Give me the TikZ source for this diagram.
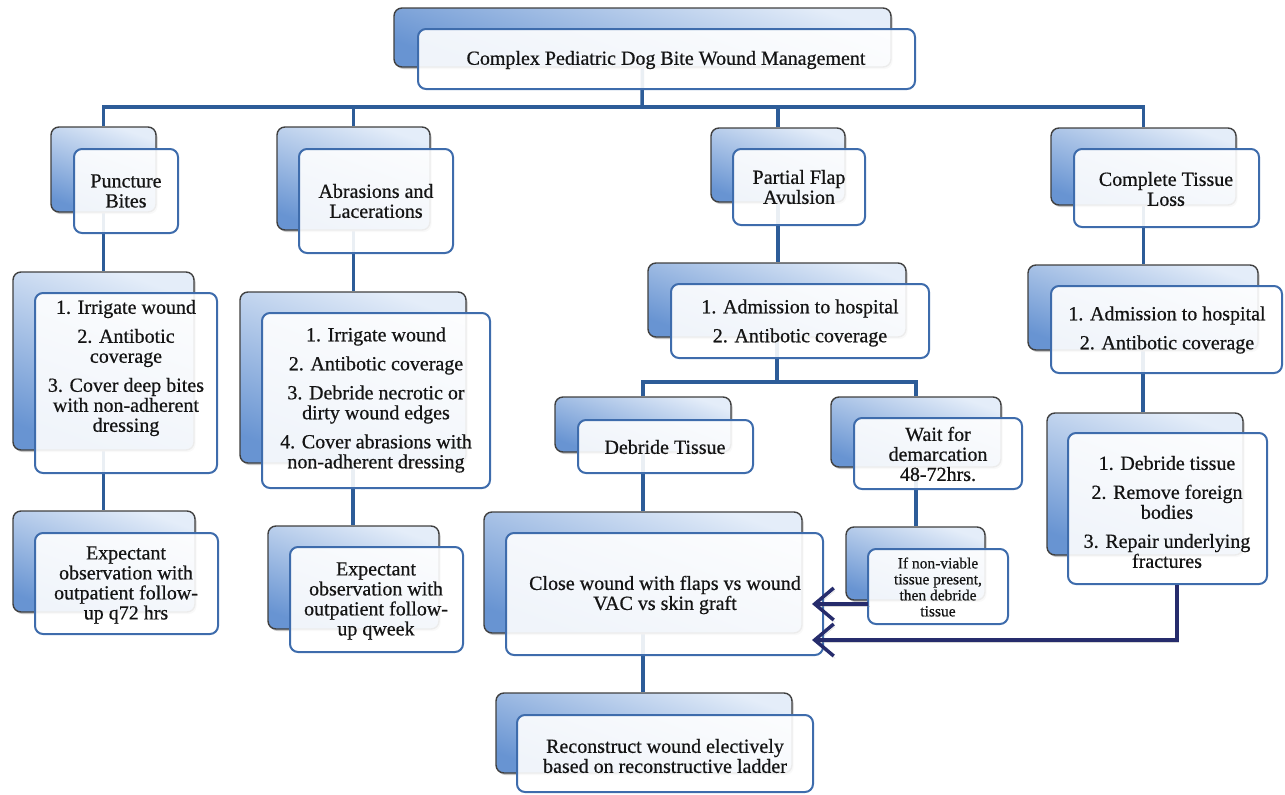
\documentclass[tikz,border=0pt]{standalone}
\usepackage{fontspec}
\setmainfont{Liberation Serif}[FakeBold=0.6]
\usetikzlibrary{fit,shadows,backgrounds,arrows.meta}
\definecolor{bLight}{RGB}{228,237,249}
\definecolor{bDark}{RGB}{104,148,210}
\definecolor{fEdge}{RGB}{62,108,172}
\definecolor{conn}{RGB}{45,92,152}
\definecolor{arr}{RGB}{38,44,108}
\definecolor{ink}{RGB}{20,20,20}
\tikzset{
  backbox/.style={rectangle, rounded corners=8pt, draw=black!75, line width=1.4pt,
    top color=bLight, bottom color=bDark, shading angle=-20, inner sep=0pt,
    drop shadow={shadow xshift=1.5pt, shadow yshift=-2pt, opacity=0.45}},
  frontbox/.style={rectangle, rounded corners=8pt, draw=fEdge, line width=2pt,
    fill=white, fill opacity=0.9, inner sep=0pt},
  lbl/.style={text=ink, align=center, font=\fontsize{20}{20}\selectfont, inner sep=0pt},
  smalllbl/.style={lbl, font=\fontsize{15.5}{16}\selectfont},
  conline/.style={draw=conn, line width=3.5pt},
  arrowline/.style={draw=arr, line width=3.5pt, line join=miter,
    -{Straight Barb[length=19pt,width=32pt]},
    preaction={draw=black!45, opacity=0.35, transform canvas={xshift=1.5pt,yshift=-2.5pt}}}
}
\newcommand{\twobox}[9]{%
  \node[backbox, fit={(#2,#3)(#4,#5)}] (#1-b) {};
  \node[frontbox, fit={(#6,#7)(#8,#9)}] (#1-f) {};}
\begin{document}
\begin{tikzpicture}[x=1pt,y=-1pt]
\useasboundingbox (0,0) rectangle (1285,795);
% boxes
\twobox{title}{394}{8}{891}{67}{418}{29}{915}{89}
\twobox{punc}{51}{127}{156}{212}{74}{149}{178}{233}
\twobox{abr}{277}{127}{430}{230}{299}{149}{453}{253}
\twobox{part}{711}{128}{845}{202}{733}{149}{865}{225}
\twobox{comp}{1051}{128}{1236}{205}{1074}{149}{1259}{227}
\twobox{plist}{13}{272}{194}{450}{35}{293}{217}{473}
\twobox{alist}{240}{292}{466}{463}{262}{313}{490}{488}
\twobox{pexp}{13}{511}{195}{612}{35}{533}{218}{634}
\twobox{aexp}{268}{526}{439}{629}{290}{547}{463}{652}
\twobox{adma}{648}{263}{906}{337}{671}{284}{929}{358}
\twobox{admb}{1028}{265}{1258}{350}{1051}{286}{1282}{373}
\twobox{deb}{555}{397}{731}{452}{578}{420}{753}{473}
\twobox{wait}{831}{397}{1001}{467}{854}{418}{1022}{489}
\twobox{clist}{1047}{413}{1243}{555}{1068}{433}{1267}{584}
\twobox{close}{484}{512}{802}{633}{506}{533}{823}{655}
\twobox{ifnv}{846}{527}{985}{600}{868}{549}{1008}{624}
\twobox{rec}{496}{693}{792}{773}{517}{715}{813}{792}
% connectors
\coordinate (bus) at (642,107);
\coordinate (sbus) at (778,382);
\begin{pgfonlayer}{background}
\draw[conline] (title-b.south) -- (bus);
\draw[conline] (punc-b.north) |- (bus) -| (comp-b.north);
\draw[conline] (abr-b.north) -- (abr-b.north |- bus);
\draw[conline] (part-b.north) -- (part-b.north |- bus);
\draw[conline] (punc-b.south) -- (punc-b.south |- plist-b.north);
\draw[conline] (plist-b.south) -- (plist-b.south |- pexp-b.north);
\draw[conline] (abr-b.south) -- (abr-b.south |- alist-b.north);
\draw[conline] (alist-b.south) -- (alist-b.south |- aexp-b.north);
\draw[conline] (part-b.south) -- (part-b.south |- adma-b.north);
\draw[conline] (comp-b.south) -- (comp-b.south |- admb-b.north);
\draw[conline] (admb-b.south) -- (admb-b.south |- clist-b.north);
\draw[conline] (adma-b.south) -- (adma-b.south |- sbus);
\draw[conline] (deb-b.north) |- (sbus) -| (wait-b.north);
\draw[conline] (deb-b.south) -- (deb-b.south |- close-b.north);
\draw[conline] (wait-b.south) -- (wait-b.south |- ifnv-b.north);
\draw[conline] (close-b.south) -- (close-b.south |- rec-b.north);
\end{pgfonlayer}
% texts
\node[lbl] (title-t) at (666,60) {Complex Pediatric Dog Bite Wound Management};
\node[lbl] (punc-t) at (126,191) {Puncture\\Bites};
\node[lbl] (abr-t) at (376,201) {Abrasions and\\Lacerations};
\node[lbl] (part-t) at (799,187) {Partial Flap\\Avulsion};
\node[lbl] (comp-t) at (1166,189) {Complete Tissue\\Loss};
\node[lbl] (plist-t) at (126,368) {1. Irrigate wound\\[9pt]2. Antibotic\\coverage\\[9pt]3. Cover deep bites\\with non-adherent\\dressing};
\node[lbl] (alist-t) at (376,400) {1. Irrigate wound\\[9pt]2. Antibotic coverage\\[9pt]3. Debride necrotic or\\dirty wound edges\\[9pt]4. Cover abrasions with\\non-adherent dressing};
\node[lbl] (pexp-t) at (126,585) {Expectant\\observation with\\outpatient follow-\\up q72 hrs};
\node[lbl] (aexp-t) at (376,601) {Expectant\\observation with\\outpatient follow-\\up qweek};
\node[lbl] (adma-t) at (800,323) {1. Admission to hospital\\[9pt]2. Antibotic coverage};
\node[lbl] (admb-t) at (1167,330) {1. Admission to hospital\\[9pt]2. Antibotic coverage};
\node[lbl] (deb-t) at (665,447) {Debride Tissue};
\node[lbl] (wait-t) at (938,454) {Wait for\\demarcation\\48-72hrs.};
\node[lbl] (clist-t) at (1167,512) {1. Debride tissue\\[9pt]2. Remove foreign\\bodies\\[9pt]3. Repair underlying\\fractures};
\node[lbl] (close-t) at (665,595) {Close wound with flaps vs wound\\VAC vs skin graft};
\node[smalllbl] (ifnv-t) at (938,587) {If non-viable\\tissue present,\\then debride\\tissue};
\node[lbl] (rec-t) at (665,756) {Reconstruct wound electively\\based on reconstructive ladder};
% arrows
\coordinate (ua-s) at (868,604);
\coordinate (ua-e) at (812,604);
\coordinate (la-c) at (1177,640);
\coordinate (la-e) at (812,640);
\draw[arrowline] (ua-s) -- (ua-e);
\draw[arrowline] (clist-f.south -| la-c) -- (la-c) -- (la-e);
\end{tikzpicture}
\end{document}
